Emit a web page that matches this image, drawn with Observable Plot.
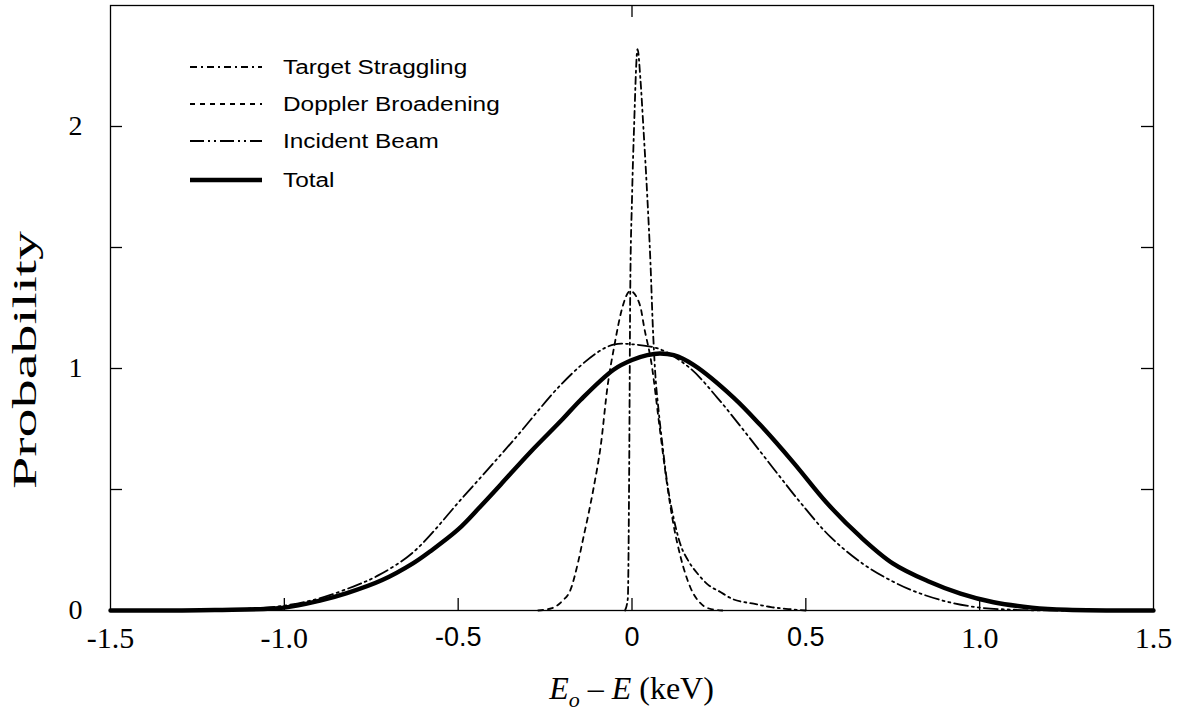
<!DOCTYPE html>
<html>
<head>
<meta charset="utf-8">
<script src="https://cdn.jsdelivr.net/npm/d3@7"></script>
<script src="https://cdn.jsdelivr.net/npm/@observablehq/plot@0.6"></script>
<style>
  html, body { margin: 0; padding: 0; background: #fff; }
  #chart { position: relative; width: 1187px; height: 716px; }
</style>
</head>
<body>
<div id="chart"></div>
<script>
// ---- Data ----
const xTicks = [-1.5, -1.0, -0.5, 0, 0.5, 1.0, 1.5];
const xTickLabels = ["-1.5", "-1.0", "-0.5", "0", "0.5", "1.0", "1.5"];
const yTicks = [0.5, 1, 1.5, 2];
const yTickLabelValues = [0, 1, 2];
const yTickLabels = ["0", "1", "2"];

const seriesNames = ["Target Straggling", "Doppler Broadening", "Incident Beam", "Total"];

const stragglingX = [-0.02, -0.012, -0.008, -0.005, 0.0, 0.006, 0.016, 0.024, 0.033, 0.044, 0.053, 0.06, 0.066, 0.077, 0.088, 0.1, 0.12, 0.14, 0.16, 0.19, 0.22, 0.25, 0.29, 0.35, 0.4, 0.45, 0.5];
const stragglingY = [0, 0.05, 0.6, 1.33, 1.7, 2.0, 2.32, 2.2, 1.99, 1.71, 1.44, 1.17, 1.0, 0.82, 0.68, 0.54, 0.38, 0.27, 0.21, 0.15, 0.105, 0.08, 0.047, 0.028, 0.014, 0.006, 0];

const dopplerX = [-0.27, -0.23, -0.2, -0.177, -0.155, -0.14, -0.125, -0.11, -0.09, -0.07, -0.05, -0.03, -0.005, 0.015, 0.025, 0.035, 0.055, 0.08, 0.1, 0.12, 0.14, 0.168, 0.197, 0.23, 0.26];
const dopplerY = [0, 0.01, 0.04, 0.085, 0.2, 0.3, 0.4, 0.51, 0.68, 0.93, 1.1, 1.24, 1.32, 1.29, 1.25, 1.17, 1.03, 0.75, 0.53, 0.35, 0.22, 0.095, 0.03, 0.005, 0];

const beamX = [-1.5, -1.3, -1.2, -1.1, -1.0, -0.9, -0.8, -0.73, -0.63, -0.485, -0.34, -0.2, -0.1, -0.05, 0.0, 0.08, 0.168, 0.245, 0.31, 0.37, 0.427, 0.485, 0.57, 0.667, 0.75, 0.82, 0.91, 1.0, 1.1, 1.2, 1.5];
const beamY = [0, 0, 0.003, 0.008, 0.02, 0.05, 0.1, 0.145, 0.24, 0.47, 0.705, 0.94, 1.066, 1.1, 1.1, 1.08, 1.0, 0.88, 0.765, 0.655, 0.55, 0.445, 0.305, 0.19, 0.12, 0.075, 0.035, 0.012, 0.003, 0, 0];

const totalX = [-1.5, -1.2, -1.0, -0.9, -0.82, -0.72, -0.63, -0.58, -0.5, -0.436, -0.378, -0.292, -0.2, -0.148, -0.053, 0.0, 0.044, 0.08, 0.12, 0.177, 0.292, 0.37, 0.465, 0.56, 0.657, 0.75, 0.85, 0.945, 1.04, 1.15, 1.25, 1.5];
const totalY = [0, 0.002, 0.012, 0.04, 0.072, 0.125, 0.195, 0.245, 0.335, 0.43, 0.52, 0.655, 0.79, 0.87, 0.995, 1.035, 1.055, 1.062, 1.055, 1.015, 0.88, 0.765, 0.61, 0.445, 0.305, 0.195, 0.122, 0.07, 0.034, 0.012, 0.003, 0];

// ---- Layout / styles ----
const W = 1187, H = 716;
const mL = 110, mR = 34, mT = 5, mB = 106;
const innerW = W - mL - mR, innerH = H - mT - mB;
const tickLen = 12;
const serif = "'Liberation Serif', 'Times New Roman', serif";
const sans = "'Liberation Sans', Arial, Helvetica, sans-serif";

const styles = {
  "Target Straggling": {width: 1.8, dash: "7,4,2,4", curve: "monotone-x"},
  "Doppler Broadening": {width: 1.8, dash: "5,5", curve: "monotone-x"},
  "Incident Beam": {width: 1.8, dash: "14,4,2,4,2,4", curve: "catmull-rom"},
  "Total": {width: 4.4, dash: null, curve: "catmull-rom"}
};

const toRows = (xs, ys, name) => xs.map((x, i) => ({x, y: ys[i], series: name}));
const seriesData = {
  "Target Straggling": toRows(stragglingX, stragglingY, "Target Straggling"),
  "Doppler Broadening": toRows(dopplerX, dopplerY, "Doppler Broadening"),
  "Incident Beam": toRows(beamX, beamY, "Incident Beam"),
  "Total": toRows(totalX, totalY, "Total")
};

const xLabelMap = new Map(xTicks.map((t, i) => [t, xTickLabels[i]]));
const yLabelMap = new Map(yTickLabelValues.map((t, i) => [t, yTickLabels[i]]));

const lineMarks = seriesNames.map(name => Plot.line(seriesData[name], {
  x: "x", y: "y", curve: styles[name].curve, stroke: "black",
  strokeWidth: styles[name].width,
  strokeDasharray: styles[name].dash || undefined,
  strokeLinejoin: "round"
}));

const chart = Plot.plot({
  width: W, height: H,
  marginLeft: mL, marginRight: mR, marginTop: mT, marginBottom: mB,
  x: {domain: [-1.5, 1.5]},
  y: {domain: [0, 2.5]},
  style: {background: "white", color: "black", overflow: "visible"},
  marks: [
    Plot.frame({stroke: "black", strokeWidth: 1.3}),
    // inward ticks
    Plot.tickX(xTicks.slice(1, -1), {x: d => d, insetTop: innerH - tickLen, stroke: "black", strokeWidth: 1.3}),
    Plot.tickX([0], {x: d => d, insetBottom: innerH - tickLen, stroke: "black", strokeWidth: 1.3}),
    Plot.tickY(yTicks, {y: d => d, insetRight: innerW - tickLen, stroke: "black", strokeWidth: 1.3}),
    Plot.tickY(yTicks, {y: d => d, insetLeft: innerW - tickLen, stroke: "black", strokeWidth: 1.3}),
    // tick labels
    Plot.axisX(xTicks, {anchor: "bottom", tickSize: 0, tickPadding: 16, label: null,
      tickFormat: d => xLabelMap.get(d), fontSize: 30, fontFamily: serif}),
    Plot.axisY(yTickLabelValues, {anchor: "left", tickSize: 0, tickPadding: 28, label: null,
      tickFormat: d => yLabelMap.get(d), fontSize: 28, fontFamily: serif}),
    ...lineMarks
  ]
});

document.getElementById("chart").appendChild(chart);

const svg = d3.select(chart);
// Some x tick labels are set in a sans face in the reference
svg.selectAll('g[aria-label="x-axis tick label"] text').each(function() {
  const t = d3.select(this).text();
  if (t === "0" || t === "0.5" || t === "-0.5") d3.select(this).style("font-family", sans).style("font-size", "27px");
});

// Axis titles
svg.append("text")
  .attr("transform", `translate(36, 360) rotate(-90)`)
  .attr("text-anchor", "middle")
  .attr("font-family", serif)
  .attr("font-size", 34)
  .attr("textLength", 258)
  .attr("lengthAdjust", "spacingAndGlyphs")
  .attr("fill", "black")
  .text("Probability");

const xl = svg.append("text")
  .attr("x", mL + innerW / 2)
  .attr("y", 699)
  .attr("text-anchor", "middle")
  .attr("font-family", serif)
  .attr("font-size", 32)
  .attr("fill", "black");
xl.append("tspan").attr("font-style", "italic").text("E");
xl.append("tspan").attr("font-style", "italic").attr("font-size", 22).attr("dy", 8).text("o");
xl.append("tspan").attr("dy", -8).text(" \u2013 ");
xl.append("tspan").attr("font-style", "italic").text("E");
xl.append("tspan").text(" (keV)");

// Legend (inside the frame, top-left)
const legendRows = [67, 104, 141, 180];
const lg = svg.append("g");
seriesNames.forEach((name, i) => {
  const y = legendRows[i];
  lg.append("line")
    .attr("x1", 190).attr("x2", 262).attr("y1", y).attr("y2", y)
    .attr("stroke", "black")
    .attr("stroke-width", styles[name].width)
    .attr("stroke-dasharray", styles[name].dash);
  lg.append("text")
    .attr("transform", `translate(283, ${y + 7}) scale(1.25, 1)`)
    .attr("text-anchor", "start")
    .attr("font-family", sans)
    .attr("font-size", 19.5)
    .attr("fill", "black")
    .text(name);
});
</script>
</body>
</html>
